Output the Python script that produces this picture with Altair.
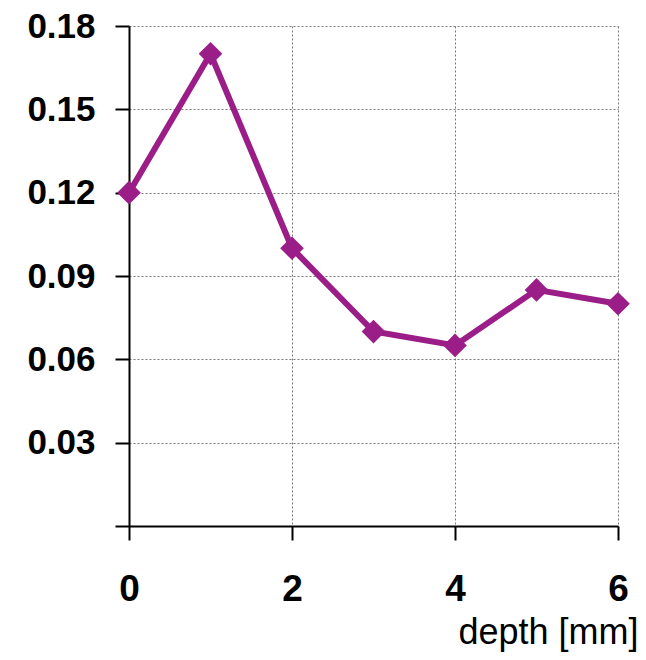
import altair as alt
import pandas as pd

depth = [0, 1, 2, 3, 4, 5, 6]
value = [0.12, 0.17, 0.10, 0.07, 0.065, 0.085, 0.080]
x_ticks = [0, 2, 4, 6]
y_ticks = [0, 0.03, 0.06, 0.09, 0.12, 0.15, 0.18]

df = pd.DataFrame({"depth": depth, "value": value})

color = "#9B1E88"

x = alt.X("depth:Q",
          scale=alt.Scale(domain=[0, 6], nice=False, zero=False),
          axis=alt.Axis(values=x_ticks, title="depth [mm]", format="d",
                        labelFont="Liberation Sans", labelFontWeight="bold", labelFontSize=37,
                        labelPadding=31, labelColor="black", labelFlush=False, labelOverlap=False,
                        titleFont="Liberation Sans", titleFontWeight="normal", titleFontSize=36,
                        titleAlign="right", titleX=509, titleY=117, titleBaseline="alphabetic",
                        titleColor="black",
                        domainColor="black", domainWidth=2, tickColor="black", tickWidth=2, tickSize=14,
                        grid=True, gridColor="#777777", gridDash=[2, 2], gridWidth=1))
y = alt.Y("value:Q",
          scale=alt.Scale(domain=[0, 0.18], nice=False),
          axis=alt.Axis(values=y_ticks, title=None, format=".2f",
                        labelExpr="datum.value == 0 ? '' : datum.label",
                        labelFont="Liberation Sans", labelFontWeight="bold", labelFontSize=35,
                        labelPadding=20, labelColor="black", labelFlush=False, labelOverlap=False,
                        domainColor="black", domainWidth=2, tickColor="black", tickWidth=2, tickSize=14,
                        grid=True, gridColor="#777777", gridDash=[2, 2], gridWidth=1))

line = alt.Chart(df).mark_line(color=color, strokeWidth=6).encode(x=x, y=y)
pts = alt.Chart(df).mark_point(shape="diamond", filled=True, size=560, color=color, opacity=1).encode(x=x, y=y)

chart = (line + pts).properties(
    width=489, height=500,
    autosize=alt.AutoSizeParams(type="none"),
    padding={"left": 121, "top": 18, "right": 20, "bottom": 126},
).configure_view(stroke=None)

chart.save("out.html", embed_options={"renderer": "svg", "actions": False})
